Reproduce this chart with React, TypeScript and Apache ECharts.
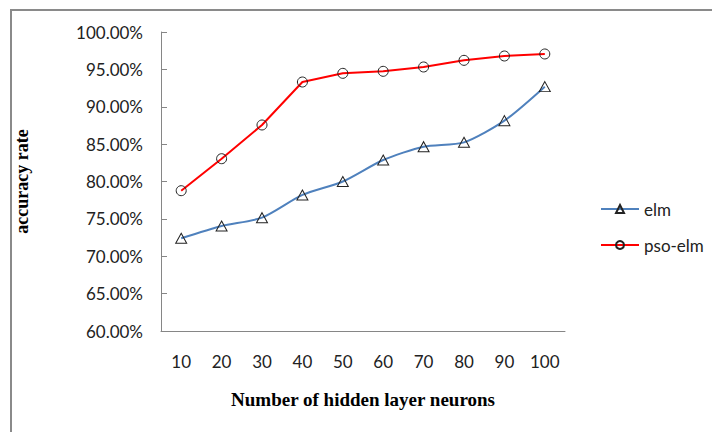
import React, { useEffect, useRef } from "react";
import * as echarts from "echarts";

const categories = ["10", "20", "30", "40", "50", "60", "70", "80", "90", "100"];
const elmValues = [72.4, 74.05, 75.16, 78.2, 80.0, 82.88, 84.66, 85.24, 88.14, 92.69];
const psoElmValues = [78.77, 83.05, 87.56, 93.31, 94.47, 94.74, 95.32, 96.21, 96.79, 97.06];
const seriesNames = ["elm", "pso-elm"];
const xTitle = "Number of hidden layer neurons";
const yTitle = "accuracy rate";

export default function App() {
  const ref = useRef<HTMLDivElement>(null);
  useEffect(() => {
    if (!ref.current) return;
    const chart = echarts.init(ref.current, null, { renderer: "svg" });
    const labelFont = "Lato, 'Open Sans', sans-serif";
    const titleFont = "'Liberation Serif', 'Times New Roman', serif";
    chart.setOption({
      animation: false,
      backgroundColor: "#ffffff",
      grid: { left: 161, top: 32, right: 147, bottom: 101, containLabel: false },
      graphic: [
        {
          type: "rect",
          shape: { x: 11, y: 10, width: 900, height: 600 },
          style: { fill: "none", stroke: "#8a8a8a", lineWidth: 2 },
          silent: true,
        },
      ],
      legend: {
        orient: "vertical",
        left: 595,
        top: 194,
        itemWidth: 38,
        itemHeight: 10,
        itemGap: 16,
        textStyle: { fontFamily: labelFont, fontSize: 17, color: "#222", lineHeight: 20 },
        data: seriesNames,
      },
      xAxis: {
        type: "category",
        data: categories,
        boundaryGap: true,
        name: xTitle,
        nameLocation: "middle",
        nameGap: 59,
        nameTextStyle: { fontFamily: titleFont, fontWeight: "bold", fontSize: 19, color: "#000" },
        axisLine: { lineStyle: { color: "#868686", width: 1 } },
        axisTick: { inside: true, length: 6, alignWithLabel: false, lineStyle: { color: "#868686" } },
        axisLabel: { fontFamily: labelFont, fontSize: 17, color: "#222", margin: 22 },
        splitLine: { show: false },
      },
      yAxis: {
        type: "value",
        min: 60,
        max: 100,
        interval: 5,
        name: yTitle,
        nameLocation: "middle",
        nameRotate: 90,
        nameGap: 130,
        nameTextStyle: { fontFamily: titleFont, fontWeight: "bold", fontSize: 18, color: "#000" },
        axisLine: { show: true, lineStyle: { color: "#868686", width: 1 } },
        axisTick: { show: true, inside: true, length: 6, lineStyle: { color: "#868686" } },
        axisLabel: {
          fontFamily: labelFont,
          fontSize: 17,
          color: "#222",
          margin: 18,
          formatter: (v: number) => v.toFixed(2) + "%",
        },
        splitLine: { show: false },
      },
      series: [
        {
          name: seriesNames[0],
          type: "line",
          data: elmValues,
          smooth: 0.25,
          symbol: "triangle",
          symbolSize: [11, 10],
          lineStyle: { color: "#4F81BD", width: 2 },
          itemStyle: { color: "rgba(255,255,255,0)", borderColor: "#222", borderWidth: 1 },
          color: "#4F81BD",
          z: 2,
        },
        {
          name: seriesNames[1],
          type: "line",
          data: psoElmValues,
          symbol: "circle",
          symbolSize: 10,
          lineStyle: { color: "#FF0000", width: 2 },
          itemStyle: { color: "rgba(255,255,255,0)", borderColor: "#222", borderWidth: 1 },
          color: "#FF0000",
          z: 3,
        },
      ],
    });
    return () => chart.dispose();
  }, []);
  return (
    <div
      ref={ref}
      style={{ position: "absolute", left: 0, top: 0, width: 712, height: 432 }}
    />
  );
}
